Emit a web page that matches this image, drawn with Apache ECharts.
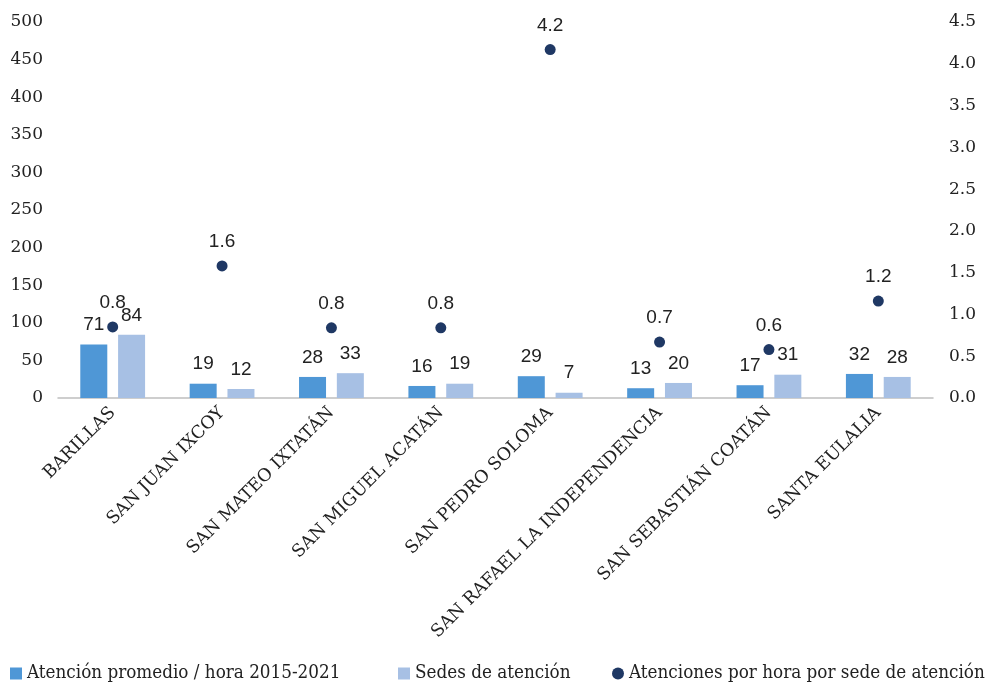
<!DOCTYPE html>
<html><head><meta charset="utf-8">
<script src="https://cdn.jsdelivr.net/npm/echarts@6/dist/echarts.min.js"></script>
<style>html,body{margin:0;padding:0;background:#fff}#c{width:992px;height:684px}</style>
</head><body><div id="c"></div>
<script>
const categories = ['BARILLAS','SAN JUAN IXCOY','SAN MATEO IXTATÁN','SAN MIGUEL ACATÁN','SAN PEDRO SOLOMA','SAN RAFAEL LA INDEPENDENCIA','SAN SEBASTIÁN COATÁN','SANTA EULALIA'];
const atencionPromedio = [71,19,28,16,29,13,17,32];
const sedes = [84,12,33,19,7,20,31,28];
const atencionesPorSede = [0.85,1.58,0.84,0.84,4.17,0.67,0.58,1.16];
const leftTicks = [0,50,100,150,200,250,300,350,400,450,500];
const rightTicks = [0,0.5,1,1.5,2,2.5,3,3.5,4,4.5];
const seriesNames = ['Atención promedio / hora 2015-2021','Sedes de atención','Atenciones por hora por sede de atención'];

const serif = 'DejaVu Serif';
const sans = 'Liberation Sans';
const legendText = {fontFamily:'DejaVu Serif Condensed',fontSize:18.7,color:'#222'};
const legendLefts = [10,398,612];
const legendIcons = ['rect','rect','circle'];
const chart = echarts.init(document.getElementById('c'));
chart.setOption({
  animation:false,
  grid:{left:58,right:59,top:22,bottom:286},
  legend: seriesNames.map((n,i)=>({
    top:664,left:legendLefts[i],itemWidth:12,itemHeight:12,itemGap:7,padding:[0,0,0,0],
    textStyle:legendText,data:[{name:n,icon:legendIcons[i]}]
  })),
  xAxis:{
    type:'category',data:categories,
    axisLine:{lineStyle:{color:'#bfbfbf',width:1.5}},
    axisTick:{show:false},
    axisLabel:{rotate:45,interval:0,fontFamily:serif,fontSize:17.5,color:'#222',margin:12}
  },
  yAxis:[
    {type:'value',min:leftTicks[0],max:leftTicks[leftTicks.length-1],interval:50,
     splitLine:{show:false},axisLine:{show:false},axisTick:{show:false},
     axisLabel:{fontFamily:serif,fontSize:17,color:'#222',margin:15}},
    {type:'value',min:rightTicks[0],max:rightTicks[rightTicks.length-1],interval:0.5,
     splitLine:{show:false},axisLine:{show:false},axisTick:{show:false},
     axisLabel:{fontFamily:serif,fontSize:17,color:'#222',margin:16,formatter:v=>v.toFixed(1)}}
  ],
  series:[
    {name:seriesNames[0],type:'bar',data:atencionPromedio,
     barWidth:27,barGap:'40%',itemStyle:{color:'#4f97d6'},
     label:{show:true,position:'top',distance:10,fontFamily:sans,fontSize:19,color:'#222'}},
    {name:seriesNames[1],type:'bar',data:sedes,
     barWidth:27,barGap:'40%',itemStyle:{color:'#a7c0e4'},
     label:{show:true,position:'top',distance:10,fontFamily:sans,fontSize:19,color:'#222'}},
    {name:seriesNames[2],type:'scatter',yAxisIndex:1,data:atencionesPorSede,
     symbol:'circle',symbolSize:11,itemStyle:{color:'#1f3864',opacity:1},
     label:{show:true,position:'top',distance:9,fontFamily:sans,fontSize:19,color:'#222',
       formatter:p=>p.value.toFixed(1)}}
  ]
});
</script></body></html>
